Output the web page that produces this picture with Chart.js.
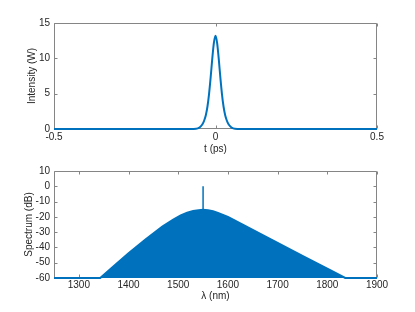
<!DOCTYPE html>
<html>
<head>
<meta charset="utf-8">
<script src="https://cdn.jsdelivr.net/npm/chart.js@4/dist/chart.umd.min.js"></script>
<style>
body{margin:0;background:#fff;}
canvas{position:absolute;left:0;}
#pulseChart{top:0;}
#specChart{top:156px;}
</style>
</head>
<body>
<canvas id="pulseChart" width="415" height="156"></canvas>
<canvas id="specChart" width="415" height="156"></canvas>
<script>
// pulse in time domain
const timePs = [-0.5, -0.1, -0.06, -0.05, -0.045, -0.04, -0.035, -0.03, -0.025, -0.02, -0.015, -0.01, -0.005, 0,
    0.005, 0.01, 0.015, 0.02, 0.025, 0.03, 0.035, 0.04, 0.045, 0.05, 0.06, 0.1, 0.5];
const intensityW = [0, 0, 0.05, 0.2, 0.4, 0.7, 1.2, 1.95, 3.15, 4.95, 7.3, 9.95, 12.2, 13.2,
    12.2, 9.95, 7.3, 4.95, 3.15, 1.95, 1.2, 0.7, 0.4, 0.2, 0.05, 0, 0];
const timeTicks = [-0.5, 0, 0.5];
const intensityTicks = [0, 5, 10, 15];

// spectrum
const lambdaNm = [1250, 1343, 1374, 1400, 1434, 1468, 1490, 1505, 1518, 1530, 1541, 1550,
    1560, 1570, 1580, 1590, 1600, 1625, 1650, 1700, 1750, 1800, 1836, 1900];
const spectrumDb = [-60, -60, -51.2, -43.8, -34.8, -26.4, -21.8, -19.1, -17.3, -16.1, -15.6, -15.4,
    -15.6, -16.3, -17.4, -18.7, -20.1, -24.3, -28.6, -37.0, -45.5, -53.8, -60, -60];
const spikeLambda = [1550, 1550];
const spikeDb = [-15.4, 0];
const lambdaTicks = [1300, 1400, 1500, 1600, 1700, 1800, 1900];
const spectrumTicks = [-60, -50, -40, -30, -20, -10, 0, 10];

const blue = "#0072BD";
const textColor = "#262626";
Chart.defaults.font.family = "'Liberation Sans', Arial, sans-serif";
Chart.defaults.font.size = 10;
Chart.defaults.color = textColor;

function toPoints(xs, ys){
    return xs.map((x, i) => ({x: x, y: ys[i]}));
}

// matlab style box with inward ticks
const boxPlugin = {
    id: "box",
    beforeDatasetsDraw(chart){
        const ctx = chart.ctx;
        const a = chart.chartArea;
        const xs = chart.scales.x;
        const ys = chart.scales.y;
        const l = Math.round(a.left) + 0.5, r = Math.round(a.right) - 0.5;
        const t = Math.round(a.top) + 0.5, b = Math.round(a.bottom) - 0.5;
        ctx.save();
        ctx.strokeStyle = "#858585";
        ctx.lineWidth = 1;
        ctx.beginPath();
        ctx.rect(l, t, r - l, b - t);
        xs.ticks.forEach(tk => {
            const px = Math.round(xs.getPixelForValue(tk.value)) + 0.5;
            ctx.moveTo(px, b); ctx.lineTo(px, b - 3);
            ctx.moveTo(px, t); ctx.lineTo(px, t + 3);
        });
        ys.ticks.forEach(tk => {
            const py = Math.round(ys.getPixelForValue(tk.value)) + 0.5;
            ctx.moveTo(l, py); ctx.lineTo(l + 3, py);
            ctx.moveTo(r, py); ctx.lineTo(r - 3, py);
        });
        ctx.stroke();
        ctx.restore();
    }
};

function makeAxis(min, max, tickVals, title, size, tickPad, titlePad, isX){
    return {
        type: "linear",
        min: min,
        max: max,
        grid: {display: false, drawTicks: false},
        border: {display: false},
        afterBuildTicks: scale => {
            scale.ticks = tickVals.map(v => ({value: v}));
        },
        afterFit: scale => {
            if(isX){
                scale.height = size;
            } else {
                scale.width = size;
            }
        },
        ticks: {
            padding: tickPad,
            maxRotation: 0,
            autoSkip: false,
            callback: v => String(v)
        },
        title: {
            display: true,
            text: title,
            font: {size: 10},
            padding: isX ? {top: 0, bottom: titlePad} : {top: titlePad, bottom: 0}
        }
    };
}

new Chart(document.getElementById("pulseChart"), {
    type: "line",
    data: {
        datasets: [{
            data: toPoints(timePs, intensityW),
            borderColor: blue,
            borderWidth: 2,
            pointRadius: 0,
            cubicInterpolationMode: "monotone",
            clip: 3
        }]
    },
    options: {
        responsive: false,
        animation: false,
        layout: {padding: {top: 23, right: 38, left: 0, bottom: 0}},
        plugins: {legend: {display: false}, tooltip: {enabled: false}},
        scales: {
            x: makeAxis(-0.5, 0.5, timeTicks, "t (ps)", 27, 2, 1, true),
            y: makeAxis(0, 15, intensityTicks, "Intensity (W)", 54, 4, 26, false)
        }
    },
    plugins: [boxPlugin]
});

new Chart(document.getElementById("specChart"), {
    type: "line",
    data: {
        datasets: [
            {
                data: toPoints(lambdaNm, spectrumDb),
                borderColor: blue,
                backgroundColor: blue,
                borderWidth: 2,
                pointRadius: 0,
                fill: "start",
                tension: 0,
                clip: 3
            },
            {
                data: toPoints(spikeLambda, spikeDb),
                borderColor: blue,
                borderWidth: 1.5,
                pointRadius: 0,
                fill: false
            }
        ]
    },
    options: {
        responsive: false,
        animation: false,
        layout: {padding: {top: 15, right: 38, left: 0, bottom: 0}},
        plugins: {legend: {display: false}, tooltip: {enabled: false}},
        scales: {
            x: makeAxis(1250, 1900, lambdaTicks, "\u03bb (nm)", 34, 1, 10, true),
            y: makeAxis(-60, 10, spectrumTicks, "Spectrum (dB)", 54, 4, 23, false)
        }
    },
    plugins: [boxPlugin]
});
</script>
</body>
</html>
